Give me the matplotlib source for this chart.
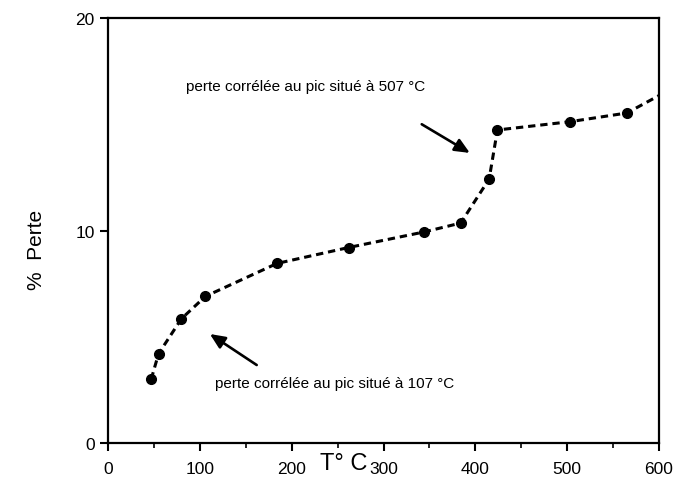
import matplotlib
matplotlib.use("Agg")
import matplotlib.pyplot as plt
from matplotlib.ticker import MultipleLocator

plt.rcParams['font.family'] = ['Liberation Sans', 'DejaVu Sans']

# Data
temp = [47, 55, 80, 106, 184, 262, 344, 384, 415, 424, 503, 565, 600]
perte = [3.0, 4.2, 5.85, 6.9, 8.45, 9.2, 9.93, 10.35, 12.42, 14.73, 15.12, 15.53, 16.35]
n_measured = 12  # points with markers; last value is the curve reaching the frame

xticks = [0, 100, 200, 300, 400, 500, 600]
yticks = [0, 10, 20]

note_hi = "perte corrélée au pic situé à 507 °C"
note_lo = "perte corrélée au pic situé à 107 °C"

fig = plt.figure(figsize=(6.76, 4.81), dpi=100)
ax = fig.add_axes([0.1598, 0.0769, 0.9749 - 0.1598, 0.9605 - 0.0769])

ax.plot(temp, perte, color='black', linestyle=(0, (2.4, 1.6)), linewidth=2.2,
        marker='o', markersize=7, markevery=list(range(n_measured)),
        clip_on=True)

ax.set_xlim(0, 600)
ax.set_ylim(0, 20)
ax.set_xticks(xticks)
ax.set_yticks(yticks)
ax.xaxis.set_minor_locator(MultipleLocator(50))
ax.tick_params(axis='both', which='major', direction='out', length=6, width=1.5,
               labelsize=12.5, colors='black')
ax.tick_params(axis='x', which='major', pad=7)
ax.tick_params(axis='x', which='minor', direction='out', length=3.5, width=1.2)
for s in ax.spines.values():
    s.set_linewidth(1.6)

ax.set_ylabel('%  Perte', fontsize=15)
ax.yaxis.set_label_coords(-0.112, 0.456)
ax.set_xlabel('T° C', fontsize=17)
ax.xaxis.set_label_coords(0.427, -0.022)

ax.text(215.6, 16.8, note_hi, fontsize=11, va='center', ha='center')
ax.text(116.5, 2.82, note_lo, fontsize=11, va='center', ha='left')

arrowprops = dict(arrowstyle='-|>,head_length=0.9,head_width=0.4', color='black',
                  lw=1.9, shrinkA=0, shrinkB=0)
ax.annotate('', xy=(394, 13.65), xytext=(341.6, 15.0), arrowprops=arrowprops)
ax.annotate('', xy=(110.9, 5.13), xytext=(161.9, 3.67), arrowprops=arrowprops)

fig.savefig('out.png', dpi=100)
